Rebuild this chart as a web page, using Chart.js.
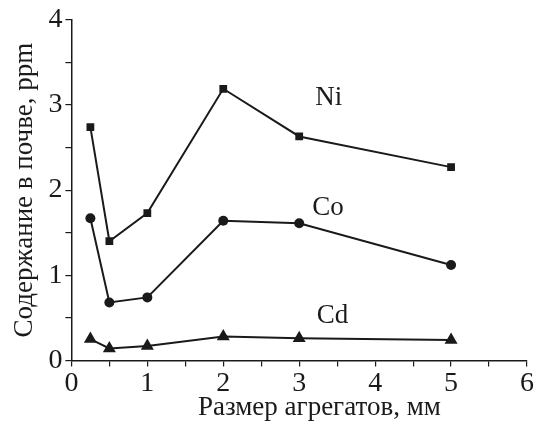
<!DOCTYPE html>
<html>
<head>
<meta charset="utf-8">
<script src="https://cdn.jsdelivr.net/npm/chart.js@4/dist/chart.umd.min.js"></script>
<style>
  html, body { margin: 0; padding: 0; background: #fff; }
  #wrap { width: 539px; height: 423px; }
</style>
</head>
<body>
<div id="wrap"><canvas id="chart"></canvas></div>
<script>
const sizes = [0.25, 0.5, 1, 2, 3, 5];
const niValues = [2.74, 1.40, 1.73, 3.19, 2.63, 2.27];
const coValues = [1.67, 0.68, 0.74, 1.64, 1.61, 1.12];
const cdValues = [0.25, 0.14, 0.17, 0.28, 0.26, 0.24];

const xTitle = 'Размер агрегатов, мм';
const yTitle = 'Содержание в почве, ppm';

// series name and where its label sits in data units
const seriesLabels = [
  { text: 'Ni', x: 3.39, y: 3.08 },
  { text: 'Co', x: 3.38, y: 1.79 },
  { text: 'Cd', x: 3.44, y: 0.52 },
];

const FONT = '"Liberation Serif", "Times New Roman", serif';

function toPoints(values) {
  return sizes.map((x, i) => ({ x, y: values[i] }));
}

function series(label, values, pointStyle, radius) {
  return {
    label,
    data: toPoints(values),
    borderColor: '#1a1a1a',
    backgroundColor: '#1a1a1a',
    borderWidth: 2,
    pointStyle,
    pointRadius: radius,
    pointBorderWidth: 0,
    tension: 0,
  };
}

// draws series names and the x axis title
const textPlugin = {
  id: 'textPlugin',
  afterDraw(chart) {
    const { ctx, scales: { x, y }, chartArea } = chart;
    ctx.save();
    ctx.fillStyle = '#1a1a1a';
    ctx.font = '27px ' + FONT;
    ctx.textAlign = 'center';
    ctx.textBaseline = 'middle';
    seriesLabels.forEach(l => {
      ctx.fillText(l.text, x.getPixelForValue(l.x), y.getPixelForValue(l.y));
    });
    ctx.textBaseline = 'alphabetic';
    ctx.fillText(xTitle, chartArea.left + 248, chartArea.bottom + 55);
    ctx.restore();
  },
};

const tickLabel = v => (Number.isInteger(v) ? String(v) : '');

new Chart(document.getElementById('chart'), {
  type: 'line',
  data: {
    datasets: [
      series('Ni', niValues, 'rect', 5.5),
      series('Co', coValues, 'circle', 5),
      series('Cd', cdValues, 'triangle', 7.5),
    ],
  },
  options: {
    responsive: true,
    maintainAspectRatio: false,
    animation: false,
    layout: { padding: { top: 10, right: 12, bottom: 23, left: 9 } },
    plugins: { legend: { display: false }, tooltip: { enabled: false } },
    scales: {
      x: {
        type: 'linear',
        min: 0,
        max: 6,
        border: { color: '#1a1a1a', width: 1.5 },
        grid: { drawOnChartArea: false, drawTicks: true, tickLength: 6, color: '#1a1a1a', lineWidth: 1.2 },
        ticks: { stepSize: 0.5, autoSkip: false, maxRotation: 0, color: '#1a1a1a', padding: 0, font: { family: FONT, size: 28 }, callback: tickLabel },
      },
      y: {
        min: 0,
        max: 4,
        border: { color: '#1a1a1a', width: 1.5 },
        grid: { drawOnChartArea: false, drawTicks: true, tickLength: 6, color: '#1a1a1a', lineWidth: 1.2 },
        ticks: { stepSize: 0.5, autoSkip: false, color: '#1a1a1a', padding: 3, font: { family: FONT, size: 28 }, callback: tickLabel },
        title: { display: true, text: yTitle, color: '#1a1a1a', padding: { top: 0, bottom: 4 }, font: { family: FONT, size: 27 } },
      },
    },
  },
  plugins: [textPlugin],
});
</script>
</body>
</html>
